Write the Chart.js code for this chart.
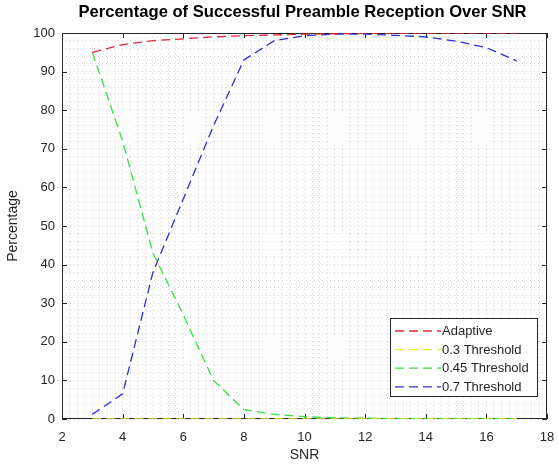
<!DOCTYPE html>
<html>
<head>
<meta charset="utf-8">
<script src="https://cdn.jsdelivr.net/npm/chart.js@4.4.1/dist/chart.umd.min.js"></script>
<style>
  html, body { margin: 0; padding: 0; background: #fff; }
  #wrap { width: 558px; height: 464px; }
</style>
</head>
<body>
<div id="wrap"><canvas id="chart"></canvas></div>
<script>
// values
const snr = [3, 4, 5, 6, 7, 8, 9, 10, 11, 12, 13, 14, 15, 16, 17];
const adaptive = [95, 97, 98, 98.5, 99, 99.3, 99.5, 99.7, 99.8, 99.9, 100, 100, 100, 100, 100];
const thr03 = [0, 0, 0, 0, 0, 0, 0, 0, 0, 0, 0, 0, 0, 0, 0];
const thr045 = [95, 72, 43, 27, 10, 2.4, 1.2, 0.6, 0.3, 0.2, 0.1, 0.1, 0.1, 0.1, 0.1];
const thr07 = [1.2, 6.5, 38, 57, 76, 93, 98, 99.3, 99.7, 99.7, 99.4, 99, 97.9, 96.2, 92.8];
const xTicks = [2, 4, 6, 8, 10, 12, 14, 16, 18];
const yTicks = [0, 10, 20, 30, 40, 50, 60, 70, 80, 90, 100];

const FONT = "'Liberation Sans', Arial, Helvetica, sans-serif";
const INK = '#262626';
const GRID = '#d6d6d6';

function pts(ys) {
    return snr.map((x, i) => ({x: x, y: ys[i]}));
}

function series(label, ys, color) {
    return {
        label: label,
        data: pts(ys),
        borderColor: color,
        backgroundColor: color,
        borderWidth: 1.3,
        borderDash: [9, 5],
        pointRadius: 0,
        tension: 0,
        fill: false
    };
}

// box, inward ticks, title and legend, drawn the matlab way
const frame = {
    id: 'frame',
    beforeDatasetsDraw(chart) {
        const {ctx, chartArea: a, scales} = chart;
        ctx.save();
        ctx.strokeStyle = INK;
        ctx.lineWidth = 1;
        ctx.beginPath();
        ctx.rect(Math.round(a.left) + 0.5, Math.round(a.top) + 0.5,
            Math.round(a.right - a.left) - 1, Math.round(a.bottom - a.top) - 1);
        ctx.stroke();
        ctx.beginPath();
        xTicks.forEach(v => {
            const px = Math.round(scales.x.getPixelForValue(v)) + 0.5;
            ctx.moveTo(px, a.bottom); ctx.lineTo(px, a.bottom - 5);
            ctx.moveTo(px, a.top); ctx.lineTo(px, a.top + 5);
        });
        yTicks.forEach(v => {
            const py = Math.round(scales.y.getPixelForValue(v)) + 0.5;
            ctx.moveTo(a.left, py); ctx.lineTo(a.left + 5, py);
            ctx.moveTo(a.right, py); ctx.lineTo(a.right - 5, py);
        });
        ctx.stroke();
        ctx.restore();
    },
    afterDraw(chart) {
        const {ctx, chartArea: a} = chart;
        ctx.save();
        ctx.fillStyle = '#000';
        ctx.font = 'bold 16.6px ' + FONT;
        ctx.textAlign = 'center';
        ctx.textBaseline = 'middle';
        ctx.fillText('Percentage of Successful Preamble Reception Over SNR', (a.left + a.right) / 2 - 2, 12);

        // legend, lower right inside the axes
        const lx = 390.5, ly = 318.5, lw = 147, lh = 78;
        ctx.fillStyle = '#fff';
        ctx.fillRect(lx, ly, lw, lh);
        ctx.strokeStyle = INK;
        ctx.lineWidth = 1;
        ctx.strokeRect(lx, ly, lw, lh);
        ctx.font = '13px ' + FONT;
        ctx.textAlign = 'left';
        chart.data.datasets.forEach((ds, i) => {
            const y = 331 + i * 18.6;
            ctx.strokeStyle = ds.borderColor;
            ctx.lineWidth = 1.3;
            ctx.setLineDash([9, 5]);
            ctx.beginPath();
            ctx.moveTo(395, y); ctx.lineTo(441, y);
            ctx.stroke();
            ctx.setLineDash([]);
            ctx.fillStyle = INK;
            ctx.fillText(ds.label, 442, y + 0.5);
        });
        ctx.restore();
    }
};

new Chart(document.getElementById('chart'), {
    type: 'line',
    data: {
        datasets: [
            series('Adaptive', adaptive, 'rgb(228, 40, 60)'),
            series('0.3 Threshold', thr03, 'rgb(236, 236, 30)'),
            series('0.45 Threshold', thr045, 'rgb(50, 225, 60)'),
            series('0.7 Threshold', thr07, 'rgb(45, 45, 215)')
        ]
    },
    options: {
        responsive: true,
        maintainAspectRatio: false,
        animation: false,
        layout: {padding: {top: 33, right: 11, bottom: 0, left: 0}},
        plugins: {
            legend: {display: false},
            title: {display: false},
            tooltip: {enabled: false}
        },
        scales: {
            x: {
                type: 'linear',
                min: 2,
                max: 18,
                afterFit: s => { s.height = 45; s.paddingLeft = 0; s.paddingRight = 0; },
                afterBuildTicks: s => {
                    s.ticks = [];
                    for (let k = 0; k <= 64; k++) s.ticks.push({value: 2 + k * 0.25});
                },
                ticks: {
                    autoSkip: false,
                    maxRotation: 0,
                    padding: 11,
                    color: INK,
                    font: {family: FONT, size: 13},
                    callback: v => (xTicks.includes(v) ? String(v) : '')
                },
                grid: {color: GRID, lineWidth: 1, drawTicks: false},
                border: {display: false, dash: [1, 3]},
                title: {
                    display: true,
                    text: 'SNR',
                    color: INK,
                    font: {family: FONT, size: 14},
                    padding: {top: 0, bottom: 0}
                }
            },
            y: {
                min: 0,
                max: 100,
                afterFit: s => { s.width = 62; s.paddingTop = 0; s.paddingBottom = 0; },
                afterBuildTicks: s => {
                    s.ticks = [];
                    for (let k = 0; k <= 50; k++) s.ticks.push({value: k * 2});
                },
                ticks: {
                    autoSkip: false,
                    padding: 7,
                    color: INK,
                    font: {family: FONT, size: 13},
                    callback: v => (yTicks.includes(v) ? String(v) : '')
                },
                grid: {color: GRID, lineWidth: 1, drawTicks: false},
                border: {display: false, dash: [1, 3]},
                title: {
                    display: true,
                    text: 'Percentage',
                    color: INK,
                    font: {family: FONT, size: 14},
                    padding: {top: 5, bottom: 0}
                }
            }
        }
    },
    plugins: [frame]
});
</script>
</body>
</html>
